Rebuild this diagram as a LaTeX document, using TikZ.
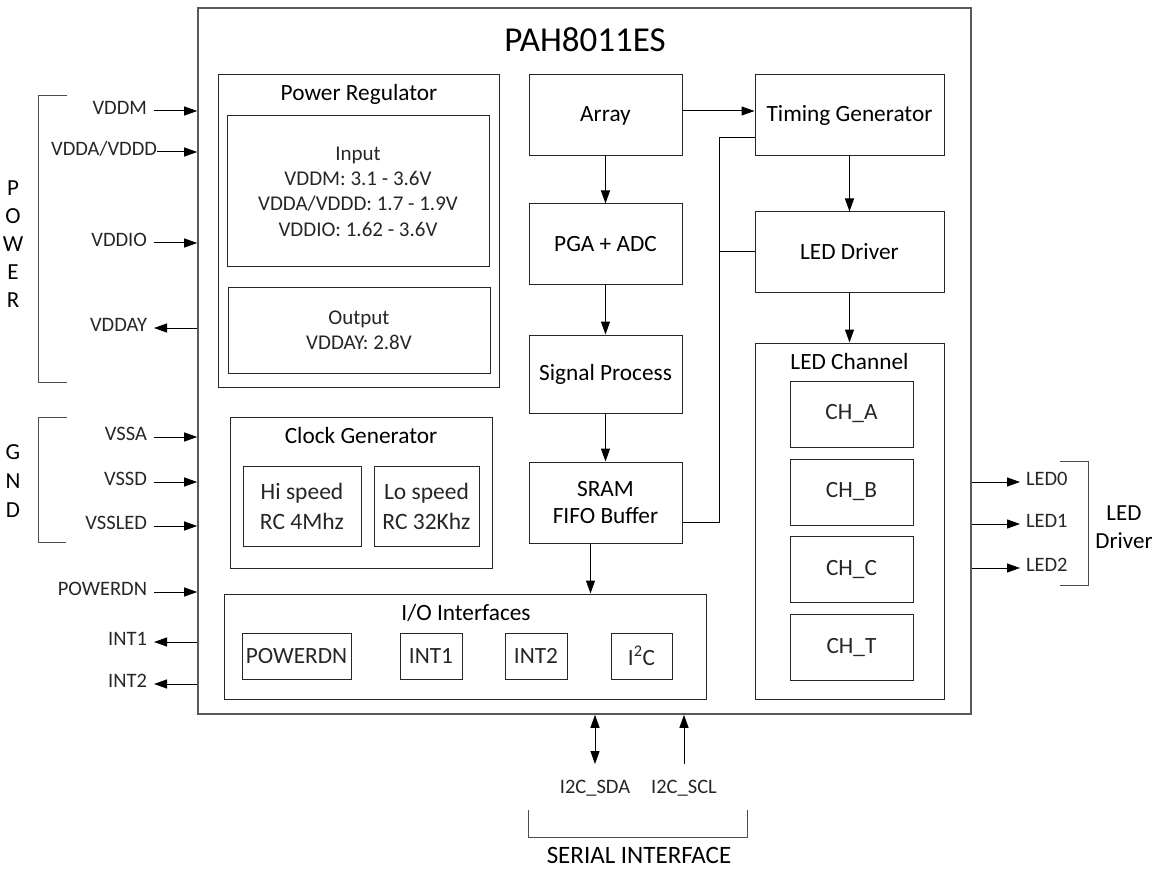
\documentclass[tikz,border=0pt]{standalone}
\usepackage{fontspec}
\setmainfont{Carlito}
\usetikzlibrary{arrows.meta}

\newcommand{\ttlfont}{\fontsize{35}{42}\selectfont}
\newcommand{\hdfont}{\fontsize{23.3}{27}\selectfont}
\newcommand{\lbfont}{\fontsize{21}{25.3}\selectfont}
\newcommand{\clkfont}{\fontsize{23.5}{30}\selectfont}
\newcommand{\pinfont}{\fontsize{20.5}{25}\selectfont}

\begin{document}
\begin{tikzpicture}[
  x=1pt,y=-1pt,
  line width=1pt,
  >={Triangle[length=13pt,width=9pt]},
  box/.style={draw=black!85,line width=1pt,inner sep=0pt,align=center,font=\hdfont},
  blk/.style={box,minimum width=153,minimum height=80},
  rblk/.style={box,minimum width=189,minimum height=80},
  sub/.style={box,font=\lbfont,text=black!85},
  hd/.style={font=\hdfont,inner sep=0pt},
  pin/.style={font=\pinfont,text=black!85,inner sep=0pt,text height=0.644em,text depth=0pt},
  brk/.style={draw=black!70,line width=1pt}]
  \useasboundingbox (0,0) rectangle (1157,869);

  % chip outline
  \node[box,draw=black!65,line width=1.6pt,minimum width=773,minimum height=706] (chip) at (584.5,361) {};
  \node[font=\ttlfont,inner sep=0pt] (title) at (585,40) {PAH8011ES};

  % power regulator
  \node[box,minimum width=281,minimum height=312] (preg) at (358.5,231) {};
  \node[hd,anchor=base] (pregt) at (359,101) {Power Regulator};
  \node[sub,minimum width=262,minimum height=151] (vin) at (358,191.5)
    {Input\\VDDM: 3.1 - 3.6V\\VDDA/VDDD: 1.7 - 1.9V\\VDDIO: 1.62 - 3.6V};
  \node[sub,minimum width=262,minimum height=86] (vout) at (359,330)
    {Output\\VDDAY: 2.8V};

  % clock generator
  \node[box,minimum width=262,minimum height=151] (clk) at (361,492.5) {};
  \node[hd,anchor=base] (clkt) at (361,443) {Clock Generator};
  \node[sub,font=\clkfont,minimum width=118,minimum height=80] (hi) at (302,506) {Hi speed\\RC 4Mhz};
  \node[sub,font=\clkfont,minimum width=105,minimum height=80] (lo) at (426.5,506) {Lo speed\\RC 32Khz};

  % I/O interfaces
  \node[box,minimum width=482,minimum height=105] (io) at (465,646.5) {};
  \node[hd,anchor=base] (iot) at (466,620) {I/O Interfaces};
  \node[sub,font=\hdfont,minimum width=109,minimum height=46] (iopd) at (296.5,656) {POWERDN};
  \node[sub,font=\hdfont,minimum width=62,minimum height=46] (ioi1) at (431,656) {INT1};
  \node[sub,font=\hdfont,minimum width=62,minimum height=46] (ioi2) at (536,656) {INT2};
  \node[sub,font=\hdfont,minimum width=61,minimum height=46] (ioi2c) at (641.5,656) {I\textsuperscript{2}C};

  % data path
  \node[blk,minimum height=81] (array) at (605.5,115.5) {Array};
  \node[blk] (pga) at (605.5,244) {PGA + ADC};
  \node[blk,minimum height=78] (sig) at (605.5,374) {Signal Process};
  \node[blk,minimum height=81] (sram) at (605.5,502.5) {SRAM\\FIFO Buffer};

  % timing and LED
  \node[rblk,minimum height=81] (timing) at (849.5,115.5) {Timing Generator};
  \node[rblk] (leddrv) at (849.5,252) {LED Driver};
  \node[rblk,minimum height=356] (ledch) at (849.5,521) {};
  \node[hd,anchor=base] (ledcht) at (849.5,369) {LED Channel};
  \foreach \n/\y in {A/414,B/492,C/569.5,T/647.5}
    \node[sub,font=\hdfont,minimum width=123,minimum height=66] (ch\n) at (851.5,\y) {CH\_\n};

  \draw[->] ([yshift=4.5pt]array.east) -- ([yshift=4.5pt]timing.west);
  \foreach \a/\b in {array/pga,pga/sig,sig/sram,timing/leddrv,leddrv/ledch}
    \draw[->] (\a) -- (\b);
  \draw[->] ([xshift=-15pt]sram.south) -- ([xshift=-15pt]sram.south |- io.north);

  % bus from SRAM
  \coordinate (bus) at (719,0);
  \draw ([yshift=-19.5pt]sram.east) -| ([yshift=-22.5pt]timing.west -| bus)
    -- ([yshift=-22.5pt]timing.west);
  \draw (bus |- leddrv.west) -- (leddrv.west);

  % left pins
  \foreach \n/\t/\y in {vddm/VDDM/111,vddio/VDDIO/243,vssa/VSSA/437,vssd/VSSD/482,vssled/VSSLED/526,pwrdn/POWERDN/592}{
    \node[pin,anchor=east,outer xsep=7pt] (\n) at (154,\y) {\t};
    \draw[->] (\n) -- (\n -| chip.west);
  }
  \node[pin,anchor=east,outer xsep=0pt] (vdda) at (157,152) {VDDA/VDDD};
  \draw[->] (vdda) -- (vdda -| chip.west);
  \foreach \n/\t/\y in {vdday/VDDAY/328,int1/INT1/642,int2/INT2/684}{
    \node[pin,anchor=east,outer xsep=7pt] (\n) at (154,\y) {\t};
    \draw[->] (\n -| chip.west) -- (\n);
  }

  % right pins
  \foreach \n/\t/\y in {led0/LED0/482,led1/LED1/524,led2/LED2/568}{
    \node[pin,anchor=west,outer xsep=6pt] (\n) at (1020,\y) {\t};
    \draw[->] (\n -| chip.east) -- (\n);
  }

  % serial pins
  \node[pin,anchor=base] (sda) at (595,793) {I2C\_SDA};
  \node[pin,anchor=base] (scl) at (684,793) {I2C\_SCL};
  \draw[<->] ([yshift=22pt]sda.north) -- (sda |- chip.south);
  \draw[->] ([yshift=22pt]scl.north) -- (scl |- chip.south);

  % group brackets
  \draw[brk] (67,96) -- (38,96) -- (38,382) -- (67,382);
  \draw[brk] (67,417) -- (38,417) -- (38,542) -- (66,542);
  \draw[brk] (1060,461) -- (1088,461) -- (1088,585) -- (1060,585);
  \draw[brk] (528,810) -- (528,837) -- (747,837) -- (747,810);
  \node[hd,align=center,font=\fontsize{23}{28}\selectfont] (pwr) at (13,244) {P\\O\\W\\E\\R};
  \node[hd,align=center,font=\fontsize{23}{29}\selectfont] (gnd) at (13,481) {G\\N\\D};
  \node[hd,align=center,font=\fontsize{23}{28}\selectfont] (ledgrp) at (1124,527) {LED\\Driver};
  \node[hd,font=\fontsize{25}{30}\selectfont] (serial) at (639,855) {SERIAL INTERFACE};
\end{tikzpicture}
\end{document}
